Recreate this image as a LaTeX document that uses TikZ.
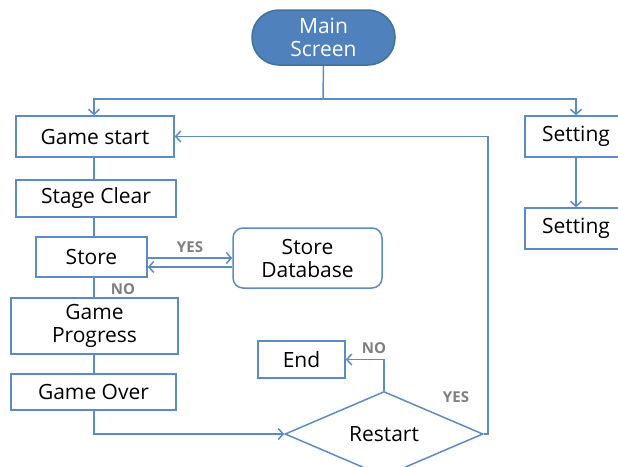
\documentclass[tikz,border=0pt]{standalone}
\usepackage{fontspec}
\setmainfont{Open Sans}
\usetikzlibrary{shapes.geometric,arrows.meta,calc}
\definecolor{lc}{HTML}{5B8BC9}
\definecolor{msfill}{HTML}{4F81BD}
\definecolor{msdraw}{HTML}{41719C}
\definecolor{lblc}{HTML}{7F7F7F}
\begin{document}
\begin{tikzpicture}[x=1pt,y=-1pt,
  font=\fontsize{21}{23}\selectfont,
  box/.style={draw=lc, line width=1.5pt, fill=white, inner sep=0pt, align=center},
  conn/.style={draw=lc, line width=1.5pt},
  arr/.style={conn, -{Straight Barb[length=5pt,width=11pt,line width=1.5pt]}},
  lbl/.style={text=lblc, font=\fontsize{15}{17}\selectfont\bfseries, inner sep=0pt}]
\useasboundingbox (0,0) rectangle (618,466);
\clip (0,0) rectangle (618,466);
\coordinate (cx) at (94,0);
\coordinate (yc) at (488,0);
\coordinate (j) at (323,99);
% nodes
\node[box, draw=msdraw, fill=msfill, text=white, rounded corners=27pt,
      minimum width=143, minimum height=55] (ms) at (323.5,37.5) {Main\\Screen};
\node[box, minimum width=158, minimum height=41] (gs) at (95,136.5) {Game start};
\node[box, minimum width=102, minimum height=41] (set1) at (576,136.5) {Setting};
\node[box, minimum width=102, minimum height=41] (set2) at (576,228.5) {Setting};
\node[box, minimum width=160, minimum height=37] (sc) at (96,198.5) {Stage Clear};
\node[box, minimum width=111, minimum height=40] (st) at (91.5,257) {Store};
\node[box, rounded corners=10pt, minimum width=149, minimum height=60] (db) at (307.5,258) {Store\\Database};
\node[box, minimum width=167, minimum height=56] (gp) at (94.5,326) {Game\\Progress};
\node[box, minimum width=165, minimum height=36] (go) at (93.5,392) {Game Over};
\node[box, minimum width=87, minimum height=37] (end) at (301.5,359.5) {End};
\node[box, shape=diamond, minimum width=198, minimum height=68] (rs) at (384,434) {Restart};
% connectors
\draw[conn] (ms.south) -- (j);
\draw[arr] (j) -| (gs.north -| cx);
\draw[arr] (j) -| (set1.north);
\draw[arr] (set1.south) -- (set2.north);
\draw[conn] (gs.south -| cx) -- (sc.north -| cx);
\draw[conn] (sc.south -| cx) -- (st.north -| cx);
\draw[conn] (st.south -| cx) -- (gp.north -| cx);
\draw[conn] (gp.south -| cx) -- (go.north -| cx);
\draw[arr] (go.south -| cx) |- (rs.west);
\draw[arr] ([yshift=-1pt]st.east) -- ([yshift=-1pt]st.east -| db.west);
\draw[arr] ([yshift=-9pt]db.west) -- ([yshift=-9pt]db.west -| st.east);
\draw[arr] (rs.north) |- (end.east);
\draw[arr] (rs.east) -- (rs.east -| yc) |- (gs.east);
% labels
\node[lbl] at (190,247) {YES};
\node[lbl] at (123,289) {NO};
\node[lbl] at (374,348) {NO};
\node[lbl] at (456,397) {YES};
\end{tikzpicture}
\end{document}
